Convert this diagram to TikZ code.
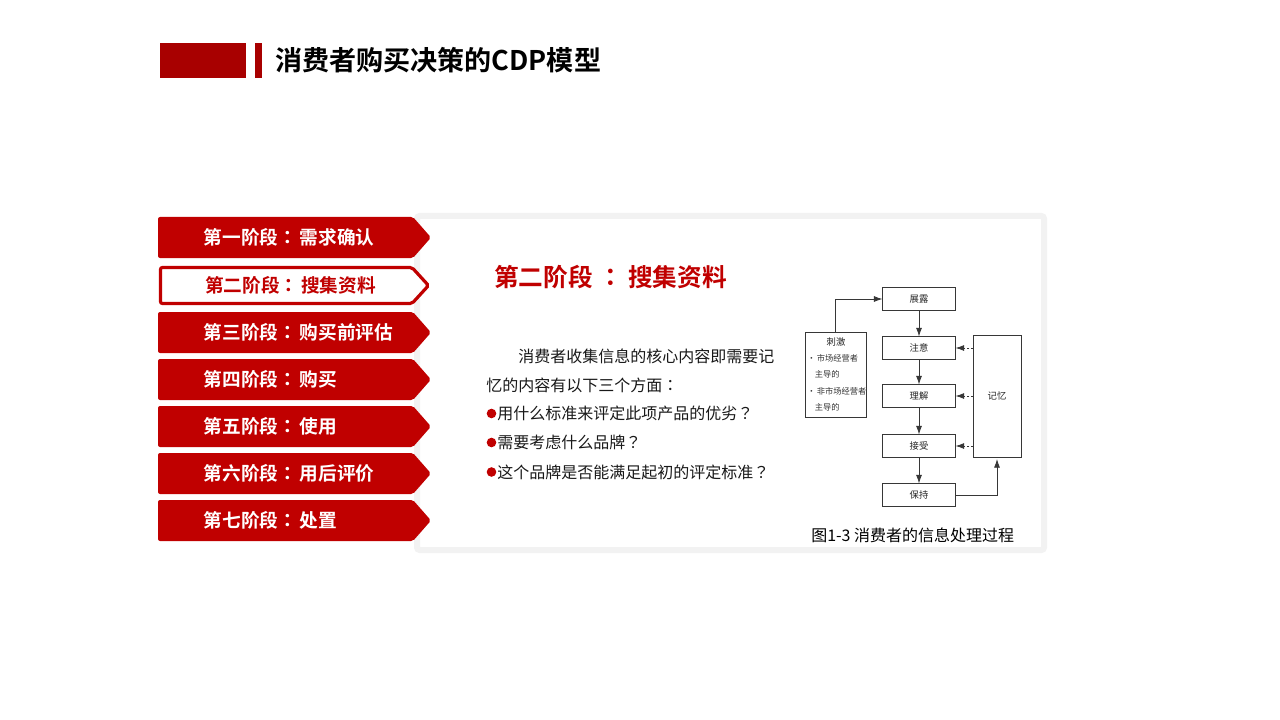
\documentclass[tikz,border=0pt]{standalone}
\usepackage{fontspec}
\setmainfont{Noto Sans CJK SC}
\newfontfamily\cjkb{Noto Sans CJK SC Bold}
\newfontfamily\tcf{Noto Sans CJK TC}
\newfontfamily\tcb{Noto Sans CJK TC Bold}
\newcommand\fcolon{{\tcf ：}}
\newcommand\fbcolon{{\tcb ：}}
\newcommand\fq{{\tcf ？}}
\makeatletter
\def\fixw#1{\fixw@i#1\relax}
\def\fixw@i#1{\ifx#1\relax\else\makebox[1em][c]{#1}\expandafter\fixw@i\fi}
\makeatother
\usetikzlibrary{arrows.meta}
\definecolor{myred}{RGB}{192,0,0}
\definecolor{darkred}{RGB}{168,0,0}
\definecolor{panelgray}{RGB}{242,242,242}
\definecolor{flowgray}{RGB}{55,55,55}
\tikzset{
  stagefill/.style={fill=myred, draw=none, rounded corners=1.5pt},
  stageactive/.style={fill=white, draw=myred, line width=2.4pt, rounded corners=1.5pt},
  stagetext/.style={anchor=west, text=white, font=\cjkb\fontsize{14}{16}\selectfont, inner sep=0pt},
  flowbox/.style={draw=flowgray, line width=0.6pt, fill=white, minimum width=54.75pt, minimum height=17.25pt, inner sep=0pt, outer sep=0pt, font=\fontsize{7}{8}\selectfont, text=black!85},
  flowarrow/.style={draw=flowgray, line width=0.6pt, -{Latex[length=6.5pt,width=4.5pt]}},
  flowdash/.style={flowarrow, dash pattern=on 1.5pt off 1.5pt},
  bodytext/.style={anchor=west, inner sep=0pt, font=\fontsize{12}{14}\selectfont, text=black!90},
  smalltext/.style={anchor=west, inner sep=0pt, font=\fontsize{6.2}{7}\selectfont, text=black!80},
}
\begin{document}
\begin{tikzpicture}[x=0.75pt, y=-0.75pt]
\useasboundingbox[fill=white] (0,0) rectangle (1280,720);

% title
\fill[darkred] (160,43) rectangle (246,78);
\fill[darkred] (255,43) rectangle (262,78);
\node[anchor=west, inner sep=0pt, font=\cjkb\fontsize{20.3}{22}\selectfont] (title) at (275,60) {消费者购买决策的CDP模型};

% panel
\draw[panelgray, line width=4.5pt, rounded corners=2pt] (417,216) rectangle (1044,550);

% stage arrows
\foreach \i/\yc/\a/\b in {1/237.5/第一阶段/需求确认, 3/332.5/第三阶段/购买前评估, 4/379.5/第四阶段/购买, 5/426.5/第五阶段/使用, 6/473.5/第六阶段/用后评价, 7/520.5/第七阶段/处置}{
  \path[stagefill] (158,\yc-20.5) -- (413,\yc-20.5) -- (431,\yc) -- (413,\yc+20.5) -- (158,\yc+20.5) -- cycle;
  \node[stagetext] (s\i) at (203.5,\yc) {\a\fbcolon\kern2pt\b};
}
\path[stageactive] (160.5,267.5) -- (412,267.5) -- (428.5,285.5) -- (412,303.5) -- (160.5,303.5) -- cycle;
\node[stagetext, text=myred] (s2) at (205,285.5) {第二阶段\fbcolon\kern2pt 搜集资料};

% heading and text
\node[anchor=west, inner sep=0pt, text=myred, font=\cjkb\fontsize{18.5}{20}\selectfont] (head) at (494,277) {第二阶段\kern4.5pt\fbcolon\kern3.5pt 搜集资料};
\node[bodytext] (p1) at (518,356) {\fixw{消费者收集信息的核心内容即需要记}};
\node[bodytext] (p2) at (486,385) {\fixw{忆的内容有以下三个方面}\fcolon};
\foreach \j/\yy/\txt in {1/413.5/用什么标准来评定此项产品的优劣, 2/442.5/需要考虑什么品牌, 3/472/这个品牌是否能满足起初的评定标准}{
  \fill[myred] (491.5,\yy) circle[radius=4.8];
  \node[bodytext] (b\j) at (497,\yy) {\expandafter\fixw\expandafter{\txt}\fq};
}

% flowchart
\node[flowbox] (zl) at (919,299) {展露};
\node[flowbox] (zy) at (919,348) {注意};
\node[flowbox] (lj) at (919,396) {理解};
\node[flowbox] (js) at (919,446) {接受};
\node[flowbox] (bc) at (919,495) {保持};
\node[flowbox, minimum width=45.75pt, minimum height=63.75pt] (cj) at (835.5,374.5) {};
\node[flowbox, minimum width=36pt, minimum height=91.5pt] (jy) at (997,396) {记忆};

\node[anchor=center, inner sep=0pt, font=\fontsize{7}{8}\selectfont, text=black!85] (cj0) at (836,342) {刺激};
\node[smalltext] (cj1) at (807,358) {•\kern1pt 市场经营者};
\node[smalltext] (cj2) at (814.5,374) {主导的};
\node[smalltext] (cj3) at (807,391) {•\kern1pt 非市场经营者};
\node[smalltext] (cj4) at (814.5,407) {主导的};

\draw[flowarrow] (cj.north) |- (zl.west);
\draw[flowarrow] (zl) -- (zy);
\draw[flowarrow] (zy) -- (lj);
\draw[flowarrow] (lj) -- (js);
\draw[flowarrow] (js) -- (bc);
\draw[flowdash] (zy.east -| jy.west) -- (zy.east);
\draw[flowdash] (lj.east -| jy.west) -- (lj.east);
\draw[flowdash] (js.east -| jy.west) -- (js.east);
\draw[flowarrow] (bc.east) -| ([yshift=-1.5pt]jy.south);

\node[anchor=west, inner sep=0pt, font=\fontsize{12}{14}\selectfont, text=black] (cap) at (811,535) {图1-3 消费者的信息处理过程};
\end{tikzpicture}
\end{document}
